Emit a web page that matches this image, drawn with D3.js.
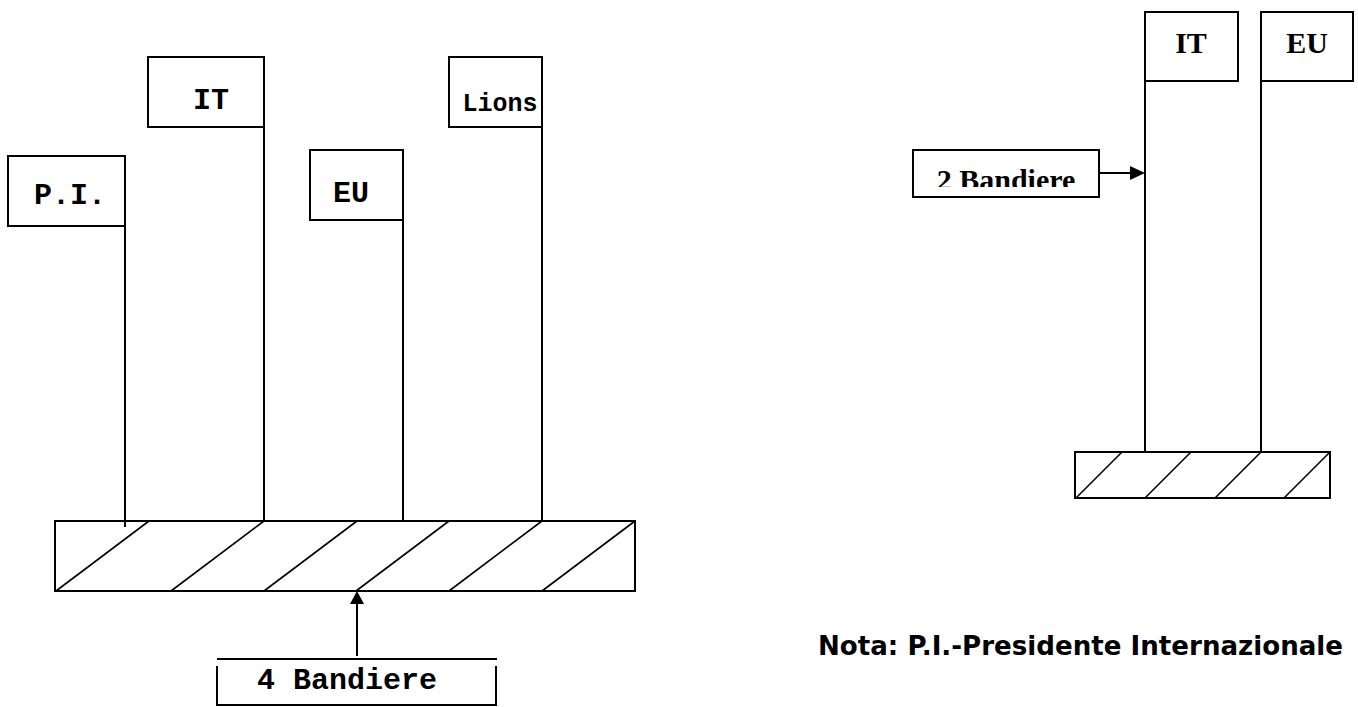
<!DOCTYPE html>
<html>
<head>
  <meta charset="utf-8">
  <title>Bandiere</title>
  <style>
    body { margin: 0; background: #fff; }
    svg { display: block; }
  </style>
  <script src="https://d3js.org/d3.v7.min.js"></script>
</head>
<body>
<div id="container"></div>
<script>
  // flag data: labels and how tall each flag stands above its base (units)
  const leftFlags = ["P.I.", "IT", "EU", "Lions"];
  const leftHeights = [3.65, 4.64, 3.71, 4.64];
  const leftWidths = [1.17, 1.16, 0.93, 0.93];
  const leftCaption = "4 Bandiere";

  const rightFlags = ["IT", "EU"];
  const rightHeights = [4.40, 4.40];
  const rightWidths = [0.93, 0.92];
  const rightCaption = "2 Bandiere";

  const note = "Nota: P.I.-Presidente Internazionale";

  const width = 1358, height = 707;
  const flagH = 0.70;   // flag cloth height (units)

  const svg = d3.select("#container").append("svg")
    .attr("width", width)
    .attr("height", height);

  const ink = "#000";

  // ---------- left group ----------
  const xL = d3.scalePoint().domain(leftFlags).range([125, 542]);
  const yL = d3.scaleLinear().domain([0, 5]).range([521, 21]);
  const u = 100; // px per unit

  const gL = svg.append("g");

  // base with hatching
  gL.append("rect")
    .attr("x", 55).attr("y", yL(0))
    .attr("width", 580).attr("height", 70)
    .attr("fill", "none").attr("stroke", ink).attr("stroke-width", 2);

  const hatchLeft = [149, 264, 357, 449, 542, 635];
  gL.selectAll(".hatch").data(hatchLeft).join("line")
    .attr("x1", d => d).attr("y1", yL(0))
    .attr("x2", d => d - 93).attr("y2", yL(0) + 70)
    .attr("stroke", ink).attr("stroke-width", 1.6);

  // poles
  gL.selectAll(".pole").data(leftFlags).join("line")
    .attr("x1", d => xL(d)).attr("x2", d => xL(d))
    .attr("y1", (d, i) => yL(leftHeights[i] - flagH))
    .attr("y2", (d, i) => i === 0 ? yL(0) + 6 : yL(0))
    .attr("stroke", ink).attr("stroke-width", 2);

  // flag cloths (hang to the left of the pole)
  gL.selectAll(".cloth").data(leftFlags).join("rect")
    .attr("x", (d, i) => xL(d) - leftWidths[i] * u)
    .attr("y", (d, i) => yL(leftHeights[i]))
    .attr("width", (d, i) => leftWidths[i] * u)
    .attr("height", flagH * u)
    .attr("fill", "#fff").attr("stroke", ink).attr("stroke-width", 2);

  const leftTextDx = [-55, -53, -52, -42];
  const leftTextDy = [48, 52, 52, 54];
  gL.selectAll(".lbl").data(leftFlags).join("text")
    .attr("x", (d, i) => xL(d) + leftTextDx[i])
    .attr("y", (d, i) => yL(leftHeights[i]) + leftTextDy[i])
    .attr("text-anchor", "middle")
    .attr("font-family", "'Liberation Mono', 'Courier New', monospace")
    .attr("font-weight", "bold")
    .attr("font-size", (d, i) => i === 3 ? 25 : 30)
    .attr("fill", ink)
    .text(d => d);

  // arrow from caption up to base
  gL.append("line")
    .attr("x1", 357).attr("x2", 357)
    .attr("y1", 656).attr("y2", 602)
    .attr("stroke", ink).attr("stroke-width", 2);
  gL.append("path")
    .attr("d", "M357,591 L350,604 L364,604 Z")
    .attr("fill", ink);

  // caption box
  gL.append("line")
    .attr("x1", 217).attr("x2", 497).attr("y1", 659).attr("y2", 659)
    .attr("stroke", ink).attr("stroke-width", 2);
  gL.append("path")
    .attr("d", "M217,666 L217,705 L496,705 L496,666")
    .attr("fill", "none").attr("stroke", ink).attr("stroke-width", 2);
  gL.append("text")
    .attr("x", 347).attr("y", 689)
    .attr("text-anchor", "middle")
    .attr("font-family", "'Liberation Mono', 'Courier New', monospace")
    .attr("font-weight", "bold")
    .attr("font-size", 30)
    .attr("fill", ink)
    .text(leftCaption);

  // ---------- right group ----------
  const xR = d3.scalePoint().domain(rightFlags).range([1145, 1261]);
  const yR = d3.scaleLinear().domain([0, 5]).range([452, -48]);

  const gR = svg.append("g");

  gR.append("rect")
    .attr("x", 1075).attr("y", yR(0))
    .attr("width", 255).attr("height", 46)
    .attr("fill", "none").attr("stroke", ink).attr("stroke-width", 2);

  const hatchRight = [1122, 1191, 1261, 1330];
  gR.selectAll(".hatch").data(hatchRight).join("line")
    .attr("x1", d => d).attr("y1", yR(0))
    .attr("x2", d => d - 46).attr("y2", yR(0) + 46)
    .attr("stroke", ink).attr("stroke-width", 1.6);

  gR.selectAll(".pole").data(rightFlags).join("line")
    .attr("x1", d => xR(d)).attr("x2", d => xR(d))
    .attr("y1", (d, i) => yR(rightHeights[i] - 0.69))
    .attr("y2", yR(0))
    .attr("stroke", ink).attr("stroke-width", 2);

  // flag cloths (to the right of the pole)
  gR.selectAll(".cloth").data(rightFlags).join("rect")
    .attr("x", d => xR(d))
    .attr("y", (d, i) => yR(rightHeights[i]))
    .attr("width", (d, i) => rightWidths[i] * u)
    .attr("height", 69)
    .attr("fill", "#fff").attr("stroke", ink).attr("stroke-width", 2);

  gR.selectAll(".lbl").data(rightFlags).join("text")
    .attr("x", d => xR(d) + 46)
    .attr("y", (d, i) => yR(rightHeights[i]) + 41)
    .attr("text-anchor", "middle")
    .attr("font-family", "'Liberation Serif', 'Times New Roman', serif")
    .attr("font-weight", "bold")
    .attr("font-size", 30)
    .attr("fill", ink)
    .text(d => d);

  // "2 Bandiere" box with clipped text and arrow to IT pole
  svg.append("clipPath").attr("id", "clip2")
    .append("rect").attr("x", 913).attr("y", 150).attr("width", 186).attr("height", 37);
  gR.append("rect")
    .attr("x", 913).attr("y", 150).attr("width", 186).attr("height", 47)
    .attr("fill", "#fff").attr("stroke", ink).attr("stroke-width", 2);
  gR.append("text")
    .attr("x", 1006).attr("y", 189.5)
    .attr("text-anchor", "middle")
    .attr("clip-path", "url(#clip2)")
    .attr("font-family", "'Liberation Serif', 'Times New Roman', serif")
    .attr("font-weight", "bold")
    .attr("font-size", 30)
    .attr("fill", ink)
    .text(rightCaption);
  gR.append("line")
    .attr("x1", 1099).attr("x2", 1133).attr("y1", 173).attr("y2", 173)
    .attr("stroke", ink).attr("stroke-width", 2);
  gR.append("path")
    .attr("d", "M1145,173 L1130,166 L1130,180 Z")
    .attr("fill", ink);

  // note
  svg.append("text")
    .attr("x", 818).attr("y", 655)
    .attr("font-family", "'DejaVu Sans', Verdana, sans-serif")
    .attr("font-weight", "bold")
    .attr("font-size", 26)
    .attr("textLength", 525)
    .attr("lengthAdjust", "spacingAndGlyphs")
    .attr("fill", ink)
    .text(note);
</script>
</body>
</html>
